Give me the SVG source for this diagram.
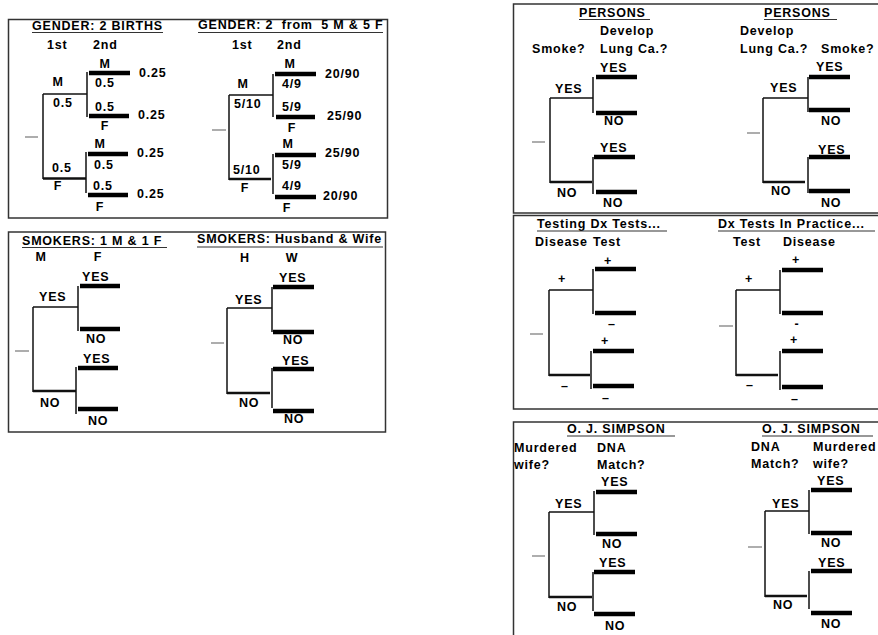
<svg xmlns="http://www.w3.org/2000/svg" width="878" height="635" viewBox="0 0 878 635">
<style>
.t{font-family:"Liberation Sans",Arial,Helvetica,sans-serif;font-weight:bold;font-size:12.5px;letter-spacing:0.8px;fill:#000}
.ttl{letter-spacing:0.8px}
.m{text-anchor:middle}
.box{fill:none;stroke:#333;stroke-width:1.5}
.ln{stroke:#111;stroke-width:1.5;fill:none}
.bar{stroke:#000;stroke-width:4.5}
.bot{stroke:#111;stroke-width:2.5}
.dash{stroke:#777;stroke-width:1.2}
.ul{stroke:#333;stroke-width:1.2}
</style>
<rect width="878" height="635" fill="#fff"/>

<!-- Panel 1 -->
<g id="gender-births">
<rect class="box" x="8.5" y="19.5" width="379" height="198.5"/>
<text class="t ttl" x="32" y="30">GENDER: 2 BIRTHS</text>
<line class="ul" x1="32" y1="32.5" x2="163" y2="32.5"/>
<text class="t" x="47" y="49">1st</text><text class="t" x="93" y="49">2nd</text>
<g class="connectors">
<line class="dash" x1="25" y1="137" x2="38" y2="137"/>
<line class="ln" x1="43" y1="94" x2="43" y2="179"/>
<line class="ln" x1="43" y1="94" x2="87" y2="94"/>
<line class="bot" x1="43" y1="178.5" x2="86" y2="178.5"/>
<line class="ln" x1="87" y1="72" x2="87" y2="117"/>
<line class="bar" x1="89" y1="73" x2="130" y2="73"/>
<line class="bar" x1="89" y1="116" x2="129" y2="116"/>
<line class="ln" x1="86" y1="152" x2="86" y2="193"/>
<line class="bar" x1="88" y1="154" x2="128" y2="154"/>
<line class="bar" x1="88" y1="195" x2="128" y2="195"/>
</g>
<text class="t m" x="58" y="86">M</text><text class="t" x="53" y="107">0.5</text>
<text class="t m" x="105" y="68">M</text><text class="t" x="95" y="87">0.5</text>
<text class="t" x="95" y="111">0.5</text><text class="t m" x="105" y="130">F</text>
<text class="t" x="139" y="77">0.25</text><text class="t" x="138" y="119">0.25</text>
<text class="t m" x="100" y="148">M</text><text class="t" x="94" y="169">0.5</text>
<text class="t" x="52" y="172">0.5</text><text class="t m" x="58" y="190">F</text>
<text class="t" x="93" y="190">0.5</text><text class="t m" x="100" y="211">F</text>
<text class="t" x="137" y="157">0.25</text><text class="t" x="137" y="198">0.25</text>
</g>

<!-- Panel 2 -->
<g id="gender-5m5f">
<text class="t ttl" x="198" y="29" xml:space="preserve">GENDER: 2  from  5 M &amp; 5 F</text>
<line class="ul" x1="198" y1="32.5" x2="383" y2="32.5"/>
<text class="t" x="232" y="49">1st</text><text class="t" x="277" y="49">2nd</text>
<g class="connectors">
<line class="dash" x1="212" y1="130" x2="226" y2="130"/>
<line class="ln" x1="229" y1="95" x2="229" y2="180"/>
<line class="ln" x1="229" y1="95" x2="273" y2="95"/>
<line class="bot" x1="229" y1="179" x2="271" y2="179"/>
<line class="ln" x1="273" y1="74" x2="273" y2="117"/>
<line class="bar" x1="275" y1="74" x2="316" y2="74"/>
<line class="bar" x1="276" y1="117" x2="315" y2="117"/>
<line class="ln" x1="273" y1="154" x2="273" y2="194"/>
<line class="bar" x1="275" y1="155" x2="316" y2="155"/>
<line class="bar" x1="275" y1="197" x2="316" y2="197"/>
</g>
<text class="t m" x="243" y="88">M</text><text class="t" x="234" y="108">5/10</text>
<text class="t m" x="290" y="68">M</text><text class="t" x="282" y="88">4/9</text>
<text class="t" x="282" y="111">5/9</text><text class="t m" x="292" y="132">F</text>
<text class="t" x="325" y="78">20/90</text><text class="t" x="327" y="120">25/90</text>
<text class="t m" x="288" y="148">M</text><text class="t" x="282" y="169">5/9</text>
<text class="t" x="233" y="174">5/10</text><text class="t m" x="245" y="192">F</text>
<text class="t" x="282" y="190">4/9</text><text class="t m" x="287" y="212">F</text>
<text class="t" x="325" y="157">25/90</text><text class="t" x="323" y="200">20/90</text>
</g>

<!-- Panel 3 -->
<g id="smokers-mf">
<rect class="box" x="8.5" y="232" width="377" height="200"/>
<text class="t ttl" x="22" y="245">SMOKERS: 1 M &amp; 1 F</text>
<line class="ul" x1="22" y1="247.5" x2="167" y2="247.5"/>
<text class="t m" x="41" y="261">M</text><text class="t m" x="98" y="261">F</text>
<g class="connectors">
<line class="dash" x1="15" y1="351" x2="29" y2="351"/>
<line class="ln" x1="33" y1="307" x2="33" y2="392"/>
<line class="ln" x1="33" y1="307" x2="78" y2="307"/>
<line class="bot" x1="33" y1="391" x2="76" y2="391"/>
<line class="ln" x1="78" y1="286" x2="78" y2="331"/>
<line class="bar" x1="80" y1="286" x2="120" y2="286"/>
<line class="bar" x1="80" y1="329" x2="120" y2="329"/>
<line class="ln" x1="76" y1="367" x2="76" y2="414"/>
<line class="bar" x1="78" y1="368" x2="118" y2="368"/>
<line class="bar" x1="78" y1="409" x2="118" y2="409"/>
</g>
<text class="t" x="82" y="281">YES</text><text class="t" x="39" y="301">YES</text>
<text class="t" x="86" y="343">NO</text><text class="t" x="83" y="363">YES</text>
<text class="t" x="40" y="407">NO</text><text class="t" x="88" y="425">NO</text>
</g>

<!-- Panel 4 -->
<g id="smokers-hw">
<text class="t ttl" x="197" y="243">SMOKERS: Husband &amp; Wife</text>
<line class="ul" x1="197" y1="247" x2="383" y2="247"/>
<text class="t m" x="245" y="262">H</text><text class="t m" x="292" y="262">W</text>
<g class="connectors">
<line class="dash" x1="211" y1="343" x2="224" y2="343"/>
<line class="ln" x1="227" y1="308" x2="227" y2="394"/>
<line class="ln" x1="227" y1="308" x2="272" y2="308"/>
<line class="bot" x1="227" y1="393" x2="270" y2="393"/>
<line class="ln" x1="272" y1="287" x2="272" y2="332"/>
<line class="bar" x1="273" y1="287" x2="314" y2="287"/>
<line class="bar" x1="273" y1="332" x2="314" y2="332"/>
<line class="ln" x1="272" y1="368" x2="272" y2="408"/>
<line class="bar" x1="273" y1="369" x2="314" y2="369"/>
<line class="bar" x1="273" y1="411" x2="314" y2="411"/>
</g>
<text class="t" x="279" y="282">YES</text><text class="t" x="235" y="304">YES</text>
<text class="t" x="283" y="344">NO</text><text class="t" x="282" y="365">YES</text>
<text class="t" x="239" y="407">NO</text><text class="t" x="284" y="423">NO</text>
</g>

<!-- Right boxes -->
<rect class="box" x="513.5" y="4" width="370" height="209"/>
<rect class="box" x="513.5" y="215.5" width="370" height="193.5"/>
<rect class="box" x="513.5" y="422" width="370" height="220"/>

<!-- Panel 5 -->
<g id="persons-smoke-first">
<text class="t ttl" x="579" y="17">PERSONS</text>
<line class="ul" x1="579" y1="19.5" x2="650" y2="19.5"/>
<text class="t" x="600" y="35">Develop</text><text class="t" x="600" y="53">Lung Ca.?</text>
<text class="t" x="532" y="53">Smoke?</text>
<g class="connectors">
<line class="dash" x1="532" y1="142" x2="545" y2="142"/>
<line class="ln" x1="550" y1="98" x2="550" y2="183"/>
<line class="ln" x1="550" y1="98" x2="593" y2="98"/>
<line class="bot" x1="550" y1="182" x2="592" y2="182"/>
<line class="ln" x1="593" y1="77" x2="593" y2="113"/>
<line class="bar" x1="596" y1="77" x2="637" y2="77"/>
<line class="bar" x1="596" y1="113" x2="637" y2="113"/>
<line class="ln" x1="593" y1="157" x2="593" y2="194"/>
<line class="bar" x1="594" y1="157" x2="635" y2="157"/>
<line class="bar" x1="596" y1="192" x2="637" y2="192"/>
</g>
<text class="t" x="600" y="72">YES</text><text class="t" x="555" y="93">YES</text>
<text class="t" x="604" y="125">NO</text><text class="t" x="600" y="152">YES</text>
<text class="t" x="557" y="197">NO</text><text class="t" x="603" y="207">NO</text>
</g>

<!-- Panel 6 -->
<g id="persons-cancer-first">
<text class="t ttl" x="764" y="17">PERSONS</text>
<line class="ul" x1="764" y1="19.5" x2="837" y2="19.5"/>
<text class="t" x="740" y="35">Develop</text><text class="t" x="740" y="53">Lung Ca.?</text>
<text class="t" x="821" y="53">Smoke?</text>
<g class="connectors">
<line class="dash" x1="747" y1="133" x2="760" y2="133"/>
<line class="ln" x1="763" y1="98" x2="763" y2="183"/>
<line class="ln" x1="763" y1="98" x2="808" y2="98"/>
<line class="bot" x1="763" y1="182" x2="805" y2="182"/>
<line class="ln" x1="808" y1="77" x2="808" y2="112"/>
<line class="bar" x1="809" y1="77" x2="850" y2="77"/>
<line class="bar" x1="809" y1="110" x2="850" y2="110"/>
<line class="ln" x1="808" y1="157" x2="808" y2="193"/>
<line class="bar" x1="809" y1="157" x2="850" y2="157"/>
<line class="bar" x1="809" y1="191" x2="850" y2="191"/>
</g>
<text class="t" x="816" y="71">YES</text><text class="t" x="770" y="92">YES</text>
<text class="t" x="821" y="125">NO</text><text class="t" x="818" y="154">YES</text>
<text class="t" x="771" y="195">NO</text><text class="t" x="821" y="207">NO</text>
</g>

<!-- Panel 7 -->
<g id="testing-dx">
<text class="t ttl" x="537" y="228">Testing Dx Tests...</text>
<line class="ul" x1="537" y1="231" x2="667" y2="231"/>
<text class="t" x="535" y="246">Disease</text><text class="t" x="593" y="246">Test</text>
<g class="connectors">
<line class="dash" x1="530" y1="334" x2="543" y2="334"/>
<line class="ln" x1="549" y1="290" x2="549" y2="376"/>
<line class="ln" x1="549" y1="290" x2="593" y2="290"/>
<line class="bot" x1="549" y1="375" x2="590" y2="375"/>
<line class="ln" x1="593" y1="269" x2="593" y2="314"/>
<line class="bar" x1="595" y1="269" x2="636" y2="269"/>
<line class="bar" x1="595" y1="313" x2="636" y2="313"/>
<line class="ln" x1="591" y1="351" x2="591" y2="389"/>
<line class="bar" x1="593" y1="351" x2="634" y2="351"/>
<line class="bar" x1="593" y1="386" x2="634" y2="386"/>
</g>
<text class="t m" x="608" y="265">+</text><text class="t m" x="562" y="283">+</text>
<text class="t m" x="612" y="327.5">–</text><text class="t m" x="605" y="345">+</text>
<text class="t m" x="565" y="389.5">–</text><text class="t m" x="606" y="401.5">–</text>
</g>

<!-- Panel 8 -->
<g id="dx-practice">
<text class="t ttl" x="718" y="228">Dx Tests In Practice...</text>
<line class="ul" x1="718" y1="231" x2="875" y2="231"/>
<text class="t" x="733" y="246">Test</text><text class="t" x="783" y="246">Disease</text>
<g class="connectors">
<line class="dash" x1="719" y1="326" x2="733" y2="326"/>
<line class="ln" x1="736" y1="290" x2="736" y2="376"/>
<line class="ln" x1="736" y1="290" x2="780" y2="290"/>
<line class="bot" x1="736" y1="375" x2="778" y2="375"/>
<line class="ln" x1="780" y1="270" x2="780" y2="314"/>
<line class="bar" x1="782" y1="270" x2="823" y2="270"/>
<line class="bar" x1="782" y1="313" x2="823" y2="313"/>
<line class="ln" x1="780" y1="351" x2="780" y2="390"/>
<line class="bar" x1="782" y1="351" x2="823" y2="351"/>
<line class="bar" x1="782" y1="387" x2="823" y2="387"/>
</g>
<text class="t m" x="796" y="264">+</text><text class="t m" x="749" y="283">+</text>
<text class="t m" x="797" y="328">-</text><text class="t m" x="794" y="344">+</text>
<text class="t m" x="750" y="388.5">–</text><text class="t m" x="795" y="402.5">–</text>
</g>

<!-- Panel 9 -->
<g id="oj-murder-first">
<text class="t ttl" x="567" y="433">O. J. SIMPSON</text>
<line class="ul" x1="567" y1="436" x2="675" y2="436"/>
<text class="t" x="514" y="452">Murdered</text><text class="t" x="514" y="469">wife?</text>
<text class="t" x="597" y="452">DNA</text><text class="t" x="597" y="469">Match?</text>
<g class="connectors">
<line class="dash" x1="532" y1="556" x2="545" y2="556"/>
<line class="ln" x1="549" y1="512" x2="549" y2="598"/>
<line class="ln" x1="549" y1="512" x2="594" y2="512"/>
<line class="bot" x1="549" y1="597" x2="592" y2="597"/>
<line class="ln" x1="594" y1="491" x2="594" y2="535"/>
<line class="bar" x1="596" y1="492" x2="637" y2="492"/>
<line class="bar" x1="596" y1="534" x2="637" y2="534"/>
<line class="ln" x1="593" y1="572" x2="593" y2="611"/>
<line class="bar" x1="594" y1="572" x2="635" y2="572"/>
<line class="bar" x1="594" y1="614" x2="635" y2="614"/>
</g>
<text class="t" x="601" y="486">YES</text><text class="t" x="555" y="508">YES</text>
<text class="t" x="602" y="548">NO</text><text class="t" x="599" y="567">YES</text>
<text class="t" x="557" y="611">NO</text><text class="t" x="605" y="630">NO</text>
</g>

<!-- Panel 10 -->
<g id="oj-dna-first">
<text class="t ttl" x="762" y="433">O. J. SIMPSON</text>
<line class="ul" x1="762" y1="436" x2="873" y2="436"/>
<text class="t" x="751" y="451">DNA</text><text class="t" x="751" y="468">Match?</text>
<text class="t" x="813" y="451">Murdered</text><text class="t" x="813" y="468">wife?</text>
<g class="connectors">
<line class="dash" x1="748" y1="547" x2="762" y2="547"/>
<line class="ln" x1="765" y1="511" x2="765" y2="597"/>
<line class="ln" x1="765" y1="511" x2="809" y2="511"/>
<line class="bot" x1="765" y1="596" x2="807" y2="596"/>
<line class="ln" x1="809" y1="490" x2="809" y2="534"/>
<line class="bar" x1="811" y1="490" x2="852" y2="490"/>
<line class="bar" x1="811" y1="533" x2="852" y2="533"/>
<line class="ln" x1="809" y1="571" x2="809" y2="609"/>
<line class="bar" x1="811" y1="571" x2="852" y2="571"/>
<line class="bar" x1="811" y1="613" x2="852" y2="613"/>
</g>
<text class="t" x="817" y="485">YES</text><text class="t" x="772" y="508">YES</text>
<text class="t" x="821" y="547">NO</text><text class="t" x="818" y="567">YES</text>
<text class="t" x="773" y="609">NO</text><text class="t" x="821" y="628">NO</text>
</g>
</svg>
